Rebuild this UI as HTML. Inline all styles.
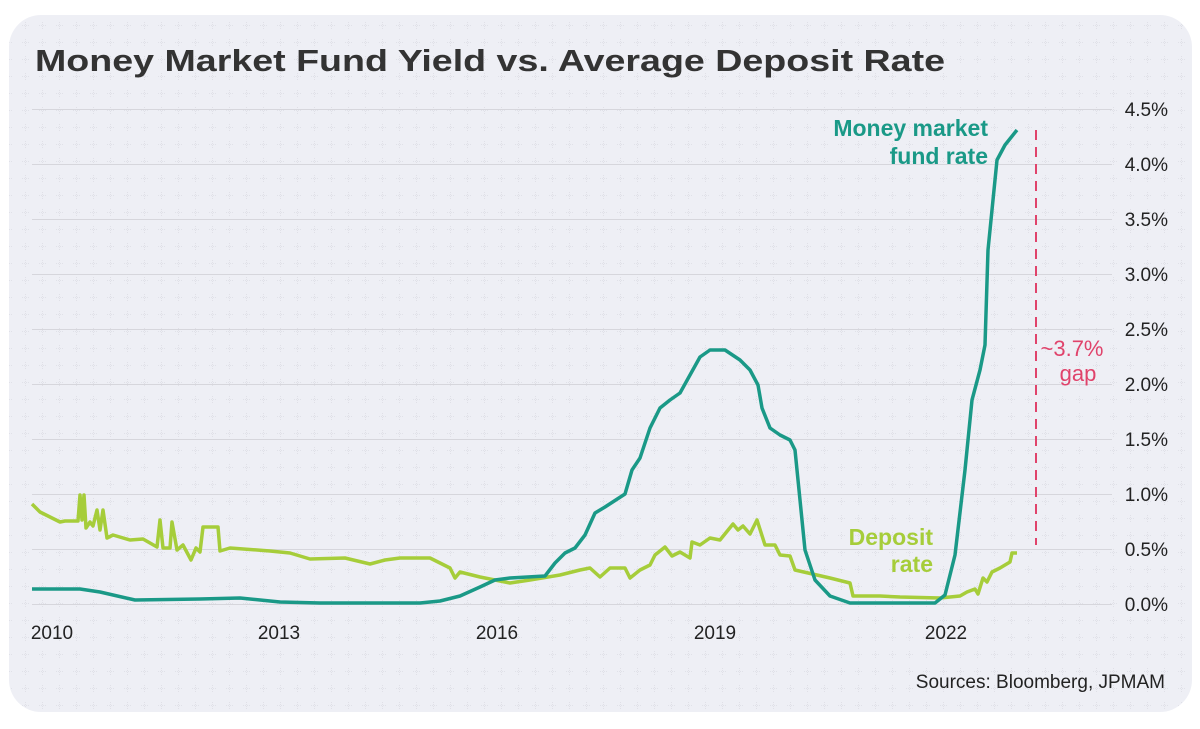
<!DOCTYPE html>
<html><head><meta charset="utf-8"><style>
html,body{margin:0;padding:0;background:#fff;}
svg{display:block;}
</style></head><body>
<svg width="1200" height="729" viewBox="0 0 1200 729" xmlns="http://www.w3.org/2000/svg" font-family="Liberation Sans, sans-serif">
<defs>
<pattern id="dots" x="0" y="0" width="17" height="17" patternUnits="userSpaceOnUse">
<path d="M8.5 5v7M5 8.5h7" stroke="#dcdde4" stroke-width="0.8" stroke-dasharray="1 1"/>
</pattern>
</defs>
<rect x="9" y="15" width="1183" height="697" rx="32" fill="#eeeff5"/>
<rect x="9" y="15" width="1183" height="697" rx="32" fill="url(#dots)"/>
<text x="35" y="71" font-size="31" font-weight="bold" fill="#333" textLength="910" lengthAdjust="spacingAndGlyphs">Money Market Fund Yield vs. Average Deposit Rate</text>
<g stroke="#d6d6dc" stroke-width="1">
<line x1="32" y1="109.5" x2="1112" y2="109.5"/><line x1="32" y1="164.5" x2="1112" y2="164.5"/>
<line x1="32" y1="219.5" x2="1112" y2="219.5"/><line x1="32" y1="274.5" x2="1112" y2="274.5"/>
<line x1="32" y1="329.5" x2="1112" y2="329.5"/><line x1="32" y1="384.5" x2="1112" y2="384.5"/>
<line x1="32" y1="439.5" x2="1112" y2="439.5"/><line x1="32" y1="494.5" x2="1112" y2="494.5"/>
<line x1="32" y1="549.5" x2="1112" y2="549.5"/><line x1="32" y1="604.5" x2="1112" y2="604.5"/>
</g>
<g font-size="19" fill="#222" text-anchor="end">
<text x="1168" y="116">4.5%</text><text x="1168" y="171">4.0%</text><text x="1168" y="226">3.5%</text>
<text x="1168" y="281">3.0%</text><text x="1168" y="336">2.5%</text><text x="1168" y="391">2.0%</text>
<text x="1168" y="446">1.5%</text><text x="1168" y="501">1.0%</text><text x="1168" y="556">0.5%</text>
<text x="1168" y="611">0.0%</text>
</g>
<g font-size="19" fill="#222" text-anchor="middle">
<text x="52" y="639">2010</text><text x="279" y="639">2013</text><text x="497" y="639">2016</text>
<text x="715" y="639">2019</text><text x="946" y="639">2022</text>
</g>
<text x="1165" y="688" font-size="19" fill="#222" text-anchor="end">Sources: Bloomberg, JPMAM</text>
<polyline fill="none" stroke="#a6cd3a" stroke-width="3.5" stroke-linejoin="round" points="32,504 40,512 60,522 65,521 78,521 80,495 82,520 84,495 86,528 90,522 93,526 97,510 100,530 103,510 107,538 113,535 130,540 143,539 157,547 160,520 163,548 170,548 172,522 177,550 183,545 191,560 196,548 200,552 203,527 218,527 220,551 230,548 270,551 290,553 310,559 345,558 370,564 385,560 400,558 430,558 450,568 455,578 460,572 480,577 510,583 530,580 560,575 580,570 590,568 600,577 610,568 625,568 630,578 640,570 650,565 655,555 665,547 672,556 680,552 690,558 692,542 700,545 710,538 720,540 733,524 738,530 743,526 750,534 757,520 765,545 775,545 780,555 790,556 795,570 830,578 850,583 853,596 880,596 900,597 940,598 960,596 967,592 975,589 978,594 983,578 987,582 992,572 1000,568 1010,562 1012,553 1017,553"/>
<polyline fill="none" stroke="#1a9987" stroke-width="3.5" stroke-linejoin="round" points="32,589 80,589 100,592 135,600 200,599 240,598 280,602 320,603 420,603 440,601 460,596 480,587 495,580 510,578 545,576 555,563 565,553 575,548 585,535 595,513 605,507 625,494 632,470 640,458 650,428 660,408 670,400 680,393 690,375 700,357 710,350 725,350 740,360 750,370 758,385 762,408 770,428 780,435 790,440 795,450 800,500 805,550 815,580 830,596 850,603 935,603 945,595 955,555 965,470 972,400 980,370 985,345 988,250 992,210 997,160 1005,145 1017,130"/>
<line x1="1036" y1="130" x2="1036" y2="545" stroke="#e0436b" stroke-width="2" stroke-dasharray="10 7"/>
<g font-size="22" fill="#e0436b" text-anchor="middle">
<text x="1072" y="356">~3.7%</text><text x="1078" y="381">gap</text>
</g>
<g font-size="23" font-weight="bold" fill="#1a9987" text-anchor="end">
<text x="988" y="136">Money market</text><text x="988" y="164">fund rate</text>
</g>
<g font-size="23" font-weight="bold" fill="#a6cd3a" text-anchor="end">
<text x="933" y="545">Deposit</text><text x="933" y="572">rate</text>
</g>
</svg>
</body></html>
